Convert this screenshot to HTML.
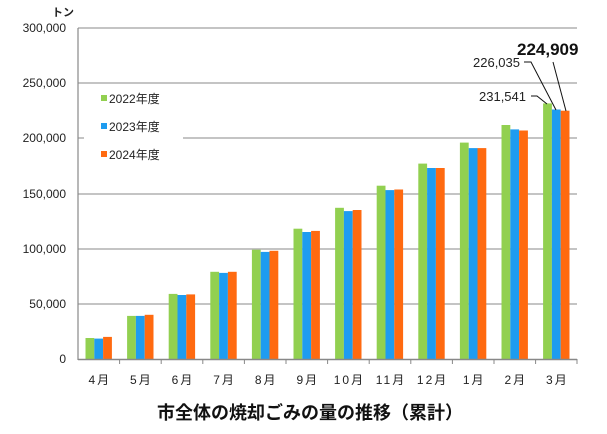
<!DOCTYPE html>
<html><head><meta charset="utf-8"><style>body{margin:0;background:#fff}svg{display:block}text{font-family:"Liberation Sans","Noto Sans CJK JP",sans-serif}</style></head><body>
<svg width="607" height="434" viewBox="0 0 607 434" xmlns="http://www.w3.org/2000/svg">
<g stroke="#a0a0a0" stroke-width="1.2">
<line x1="78" y1="28" x2="577" y2="28"/>
<line x1="78" y1="83" x2="577" y2="83"/>
<line x1="78" y1="138" x2="577" y2="138"/>
<line x1="78" y1="194" x2="577" y2="194"/>
<line x1="78" y1="249" x2="577" y2="249"/>
<line x1="78" y1="304" x2="577" y2="304"/>
</g>
<g font-size="12" fill="#222" text-anchor="end">
<text x="66" y="32">300,000</text><text x="66" y="87">250,000</text><text x="66" y="142">200,000</text><text x="66" y="198">150,000</text><text x="66" y="253">100,000</text><text x="66" y="308">50,000</text><text x="66" y="363">0</text>
</g>
<text x="52" y="16" font-size="11" font-weight="bold" fill="#222">トン</text>
<g fill="#92d050">
<rect x="85.5" y="338" width="8.8" height="21"/>
<rect x="127.1" y="315.9" width="8.8" height="43.1"/>
<rect x="168.7" y="293.9" width="8.8" height="65.1"/>
<rect x="210.3" y="271.8" width="8.8" height="87.2"/>
<rect x="251.9" y="249.7" width="8.8" height="109.3"/>
<rect x="293.5" y="228.7" width="8.8" height="130.3"/>
<rect x="335.1" y="207.8" width="8.8" height="151.2"/>
<rect x="376.7" y="185.7" width="8.8" height="173.3"/>
<rect x="418.3" y="163.6" width="8.8" height="195.4"/>
<rect x="459.9" y="142.6" width="8.8" height="216.4"/>
<rect x="501.5" y="125" width="8.8" height="234"/>
<rect x="543.1" y="103.4" width="8.8" height="255.6"/>
</g>
<g fill="#1e9cf0">
<rect x="94.3" y="338.6" width="8.8" height="20.4"/>
<rect x="135.9" y="315.9" width="8.8" height="43.1"/>
<rect x="177.5" y="295" width="8.8" height="64"/>
<rect x="219.1" y="272.9" width="8.8" height="86.1"/>
<rect x="260.7" y="251.9" width="8.8" height="107.1"/>
<rect x="302.3" y="232" width="8.8" height="127"/>
<rect x="343.9" y="211.1" width="8.8" height="147.9"/>
<rect x="385.5" y="190.1" width="8.8" height="168.9"/>
<rect x="427.1" y="168" width="8.8" height="191"/>
<rect x="468.7" y="148.1" width="8.8" height="210.9"/>
<rect x="510.3" y="129.4" width="8.8" height="229.6"/>
<rect x="551.9" y="109.5" width="8.8" height="249.5"/>
</g>
<g fill="#ff6a10">
<rect x="103.1" y="336.9" width="8.8" height="22.1"/>
<rect x="144.7" y="314.8" width="8.8" height="44.2"/>
<rect x="186.3" y="294.4" width="8.8" height="64.6"/>
<rect x="227.9" y="271.8" width="8.8" height="87.2"/>
<rect x="269.5" y="250.8" width="8.8" height="108.2"/>
<rect x="311.1" y="230.9" width="8.8" height="128.1"/>
<rect x="352.7" y="210" width="8.8" height="149"/>
<rect x="394.3" y="189.5" width="8.8" height="169.5"/>
<rect x="435.9" y="168" width="8.8" height="191"/>
<rect x="477.5" y="148.1" width="8.8" height="210.9"/>
<rect x="519.1" y="130.5" width="8.8" height="228.5"/>
<rect x="560.7" y="110.7" width="8.8" height="248.3"/>
</g>
<g font-size="12" fill="#222" text-anchor="middle" letter-spacing="2">
<text x="99.8" y="384">4月</text><text x="141.4" y="384">5月</text><text x="183" y="384">6月</text><text x="224.6" y="384">7月</text><text x="266.2" y="384">8月</text><text x="307.8" y="384">9月</text><text x="349.4" y="384">10月</text><text x="391" y="384">11月</text><text x="432.6" y="384">12月</text><text x="474.2" y="384">1月</text><text x="515.8" y="384">2月</text><text x="557.4" y="384">3月</text>
</g>
<g stroke="#888">
<line x1="119.6" y1="359" x2="119.6" y2="364"/><line x1="161.2" y1="359" x2="161.2" y2="364"/><line x1="202.8" y1="359" x2="202.8" y2="364"/><line x1="244.4" y1="359" x2="244.4" y2="364"/><line x1="286" y1="359" x2="286" y2="364"/><line x1="327.6" y1="359" x2="327.6" y2="364"/><line x1="369.2" y1="359" x2="369.2" y2="364"/><line x1="410.8" y1="359" x2="410.8" y2="364"/><line x1="452.4" y1="359" x2="452.4" y2="364"/><line x1="494" y1="359" x2="494" y2="364"/><line x1="535.6" y1="359" x2="535.6" y2="364"/><line x1="577" y1="359" x2="577" y2="364"/>
</g>
<line x1="78" y1="28" x2="78" y2="360" stroke="#888" stroke-width="1.2"/>
<line x1="78" y1="359.5" x2="577" y2="359.5" stroke="#888" stroke-width="1.5"/>
<rect x="84" y="86" width="99" height="80" fill="#fff"/>
<g font-size="12" fill="#222">
<rect x="101" y="95" width="6" height="6" fill="#92d050"/><text x="109" y="103">2022年度</text>
<rect x="101" y="123" width="6" height="6" fill="#1e9cf0"/><text x="109" y="131">2023年度</text>
<rect x="101" y="151" width="6" height="6" fill="#ff6a10"/><text x="109" y="159">2024年度</text>
</g>
<g font-size="13" fill="#222" text-anchor="end">
<text x="526" y="101">231,541</text>
<text x="520" y="67">226,035</text>
</g>
<text x="517" y="55" font-size="17" font-weight="bold" fill="#111">224,909</text>
<g stroke="#111" fill="none" stroke-width="1">
<polyline points="531,96 537,96 547,104"/>
<polyline points="524,62 531,62 556,110"/>
<line x1="553" y1="62" x2="566" y2="111"/>
</g>
<text x="310" y="419" font-size="18" font-weight="bold" fill="#111" text-anchor="middle">市全体の焼却ごみの量の推移（累計）</text>
</svg>
</body></html>
